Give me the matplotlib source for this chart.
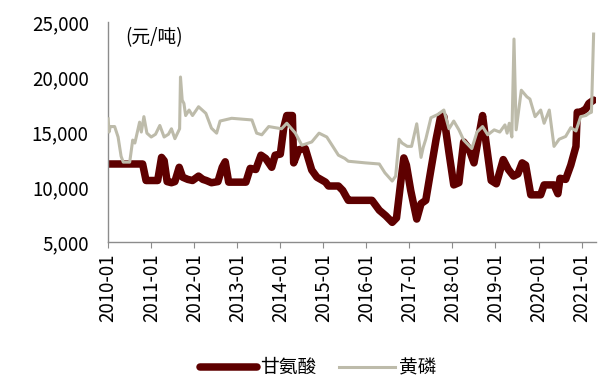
import matplotlib
matplotlib.use('Agg')
import matplotlib.pyplot as plt
from matplotlib.ticker import FuncFormatter

plt.rcParams['font.family'] = ['Noto Sans CJK SC', 'DejaVu Sans']

# Glycine price (yuan/ton), time in decimal years
gly_t = [2010.00, 2010.80, 2010.88, 2011.00, 2011.15, 2011.24, 2011.30, 2011.37, 2011.47,
         2011.55, 2011.65, 2011.73, 2011.85, 2011.96, 2012.10, 2012.20, 2012.28, 2012.40,
         2012.55, 2012.65, 2012.72, 2012.80, 2013.20, 2013.30, 2013.43, 2013.55, 2013.66,
         2013.80, 2013.88, 2014.00, 2014.08, 2014.15, 2014.28, 2014.31, 2014.43, 2014.58,
         2014.73, 2014.85, 2015.05, 2015.12, 2015.35, 2015.45, 2015.55, 2015.58, 2016.13,
         2016.30, 2016.45, 2016.60, 2016.70, 2016.80, 2016.87, 2016.93, 2017.03, 2017.17,
         2017.27, 2017.38, 2017.50, 2017.62, 2017.73, 2017.80, 2017.92, 2018.03, 2018.15,
         2018.26, 2018.38, 2018.50, 2018.57, 2018.70, 2018.77, 2018.90, 2019.02, 2019.18,
         2019.30, 2019.42, 2019.52, 2019.62, 2019.70, 2019.82, 2020.05, 2020.13, 2020.36,
         2020.45, 2020.50, 2020.63, 2020.75, 2020.87, 2020.90, 2020.98, 2021.10, 2021.17,
         2021.28]
gly_v = [12100, 12100, 10600, 10600, 10600, 12700, 12400, 10500, 10400,
         10500, 11800, 10900, 10700, 10600, 11000, 10700, 10600, 10400,
         10500, 11800, 12300, 10450, 10450, 11700, 11600, 12900, 12600,
         11800, 12900, 13000, 15400, 16500, 16500, 12200, 13400, 13500,
         11550, 10900, 10450, 10100, 10100, 9700, 9000, 8800, 8800,
         7900, 7400, 6800, 7200, 10500, 12650, 12000, 9700, 7100,
         8500, 8800, 11600, 14350, 16500, 16400, 13100, 10200, 10400,
         14100, 13500, 12200, 13700, 16500, 14350, 10600, 10300, 12500,
         11600, 11000, 11200, 12200, 12000, 9300, 9300, 10200, 10200,
         9400, 10800, 10700, 12000, 13700, 16800, 16800, 17100, 17600,
         17900]

# Yellow phosphorus price (yuan/ton)
yp_t = [2010.00, 2010.02, 2010.05, 2010.15, 2010.23, 2010.30, 2010.35, 2010.50, 2010.57,
        2010.62, 2010.73, 2010.77, 2010.83, 2010.90, 2011.00, 2011.10, 2011.20, 2011.30,
        2011.40, 2011.47, 2011.55, 2011.66, 2011.68, 2011.72, 2011.76, 2011.80, 2011.88,
        2011.96, 2012.10, 2012.27, 2012.40, 2012.52, 2012.60, 2012.87, 2013.34, 2013.45,
        2013.57, 2013.73, 2014.03, 2014.15, 2014.35, 2014.50, 2014.73, 2014.90, 2015.08,
        2015.35, 2015.50, 2015.58, 2015.98, 2016.30, 2016.43, 2016.60, 2016.68, 2016.76,
        2016.83, 2016.95, 2017.05, 2017.17, 2017.27, 2017.32, 2017.38, 2017.50, 2017.66,
        2017.80, 2017.92, 2018.03, 2018.15, 2018.26, 2018.45, 2018.57, 2018.70, 2018.82,
        2018.97, 2019.10, 2019.22, 2019.27, 2019.32, 2019.38, 2019.43, 2019.48, 2019.60,
        2019.73, 2019.80, 2019.92, 2020.05, 2020.13, 2020.25, 2020.36, 2020.48, 2020.63,
        2020.75, 2020.87, 2020.98, 2021.10, 2021.17, 2021.23, 2021.28]
yp_v = [16200, 15000, 15500, 15500, 14550, 12800, 12270, 12270, 14270,
        14000, 15900, 15000, 16400, 14900, 14550, 14800, 15600, 14550,
        14800, 15300, 14400, 15300, 20000, 17900, 17600, 16500, 17000,
        16500, 17300, 16700, 15350, 14900, 16000, 16250, 16100, 14900,
        14750, 15500, 15300, 15800, 14900, 13800, 14100, 14900, 14550,
        12900, 12600, 12350, 12200, 12100, 11300, 10550, 11000, 14350,
        14000, 13700, 13700, 15750, 12700, 13600, 14350, 16300, 16600,
        17000, 15300, 16000, 15200, 14270, 13500, 15000, 15500, 14750,
        15200, 15000, 15650, 14900, 15800, 14550, 23450, 15200, 18800,
        18200, 18000, 16400, 17000, 15800, 17000, 13700, 14350, 14600,
        15400, 15100, 16400, 16500, 16700, 16800, 23900]

years = list(range(2010, 2022))
year_labels = [f'{y}-01' for y in years]

fig = plt.figure(figsize=(6.01, 3.85), dpi=100)
ax = fig.add_axes([0.180, 0.371, 0.812, 0.572])

ax.plot(gly_t, gly_v, color='#5E0000', lw=5.4, solid_joinstyle='round',
        solid_capstyle='round', label='甘氨酸', zorder=2)
ax.plot(yp_t, yp_v, color='#BDBBAA', lw=2.2, label='黄磷', zorder=3)

ax.set_xlim(2010.0, 2021.34)
ax.set_ylim(5000, 25000)
ax.set_yticks(range(5000, 25001, 5000))
ax.yaxis.set_major_formatter(FuncFormatter(lambda v, p: f'{int(v):,}'))
ax.set_xticks(years)
ax.set_xticklabels(year_labels, rotation=90)

for s in ['top', 'right']:
    ax.spines[s].set_visible(False)
for s in ['left', 'bottom']:
    ax.spines[s].set_color('#8C8C8C')
    ax.spines[s].set_linewidth(1.0)

ax.tick_params(axis='y', length=0, pad=14, labelsize=13.5)
ax.tick_params(axis='x', length=4, color='#8C8C8C', pad=4, labelsize=13.5)

ax.text(0.035, 0.93, '(元/吨)', transform=ax.transAxes, fontsize=13.5,
        va='center', ha='left')

fig.legend(loc='center', bbox_to_anchor=(0.53, 0.045), ncol=2, frameon=False,
           fontsize=13.5, handlelength=3.0, handletextpad=0.2, columnspacing=1.2)

fig.savefig('out.png', dpi=100)
